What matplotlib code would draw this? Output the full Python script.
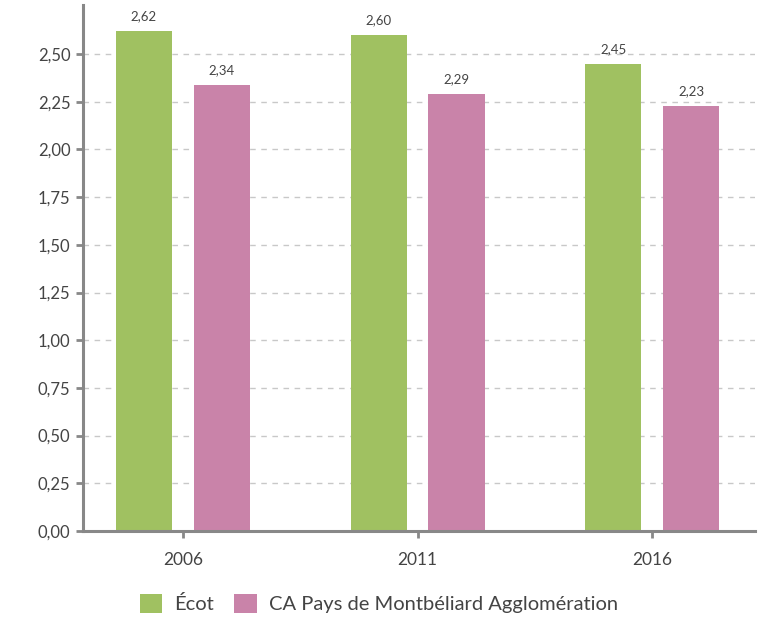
import numpy as np
import matplotlib.pyplot as plt

years = ["2006", "2011", "2016"]
ecot = [2.62, 2.60, 2.45]
capm = [2.34, 2.29, 2.23]
series_names = ["Écot", "CA Pays de Montbéliard Agglomération"]
yticks = [0, 0.25, 0.5, 0.75, 1.0, 1.25, 1.5, 1.75, 2.0, 2.25, 2.5]

GREEN = "#a0c161"
PINK = "#c983a9"
TEXT = "#444444"
AXIS = "#888888"


def fmt(v):
    return f"{v:.2f}".replace(".", ",")


def main():
    plt.rcParams["font.family"] = ["Lato", "DejaVu Sans"]
    fig = plt.figure(figsize=(7.58, 6.24), dpi=100)
    ax = fig.add_axes([0.1095, 0.149, 0.887, 0.843])

    x = np.arange(len(years))
    w = 0.239
    off = 0.166
    b1 = ax.bar(x - off, ecot, w, color=GREEN, label=series_names[0], zorder=3)
    b2 = ax.bar(x + off, capm, w, color=PINK, label=series_names[1], zorder=3)

    for bars, vals in ((b1, ecot), (b2, capm)):
        for r, v in zip(bars, vals):
            ax.text(r.get_x() + r.get_width() / 2, v + 0.045, fmt(v),
                    ha="center", va="bottom", fontsize=9.5, color=TEXT)

    ax.set_xlim(-0.426, 2.44)
    ax.set_ylim(0, 2.757)
    ax.set_xticks(x)
    ax.set_xticklabels(years)
    ax.set_yticks(yticks)
    ax.set_yticklabels([fmt(v) for v in yticks])

    ax.grid(axis="y", color="#c8c8c8", linestyle=(0, (4, 4)), linewidth=1, zorder=0)
    for s in ("top", "right"):
        ax.spines[s].set_visible(False)
    for s in ("left", "bottom"):
        ax.spines[s].set_color(AXIS)
        ax.spines[s].set_linewidth(2.2)
        ax.spines[s].set_zorder(4)

    ax.tick_params(axis="y", colors=AXIS, labelcolor=TEXT, labelsize=12,
                   length=5, width=2, pad=4)
    ax.tick_params(axis="x", colors=AXIS, labelcolor=TEXT, labelsize=12.5,
                   length=5, width=2, pad=10)

    fig.legend(loc="lower center", bbox_to_anchor=(0.5, -0.012), ncol=2,
               frameon=False, fontsize=14.5, handlelength=1.1, handleheight=1.1,
               handletextpad=0.6, columnspacing=1.0, labelcolor=TEXT)

    fig.savefig("out.png", dpi=100)


if __name__ == '__main__':
    main()
